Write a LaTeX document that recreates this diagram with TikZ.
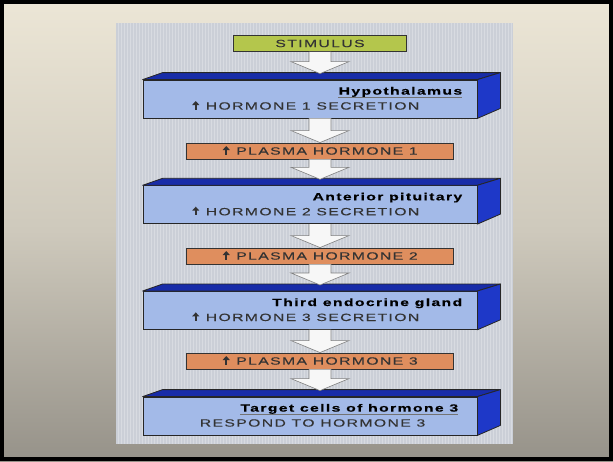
\documentclass[tikz,border=0pt]{standalone}
\usepackage{fontspec}
\setmainfont{Liberation Sans}
\newfontfamily\flowfont[FakeStretch=1.5,LetterSpace=13,FakeBold=0.3]{Liberation Sans}
\usetikzlibrary{calc}

\definecolor{bginner}{RGB}{236,230,214}
\definecolor{bgmid}{RGB}{206,201,188}
\definecolor{bgouter}{RGB}{150,146,137}
\definecolor{panelgray}{RGB}{203,207,215}
\definecolor{boxfront}{RGB}{163,186,232}
\definecolor{boxtop}{RGB}{24,44,168}
\definecolor{boxside}{RGB}{30,56,200}
\definecolor{stimgreen}{RGB}{180,198,76}
\definecolor{plasmaorange}{RGB}{223,142,94}

\newcommand{\flowarrow}[2]{%
  \filldraw[flow] ($(#1)+(-11,0)$) -- ($(#2)+(-11,-12)$) -- ($(#2)+(-29,-12)$)
    -- (#2) -- ($(#2)+(29,-12)$) -- ($(#2)+(11,-12)$) -- ($(#1)+(11,0)$);
}
\newcommand{\risemark}[1]{%
  \fill[black!80] ($(#1)+(3,0)$) rectangle ($(#1)+(5.3,-5)$);
  \fill[black!80] ($(#1)+(0.5,-4.6)$) -- ($(#1)+(4.15,-8.6)$) -- ($(#1)+(7.8,-4.6)$) -- cycle;
}

\begin{document}
\begin{tikzpicture}[x=1pt,y=-1pt,
    front/.style={draw=black!85, fill=boxfront, line width=0.8pt, minimum width=334pt, minimum height=38pt, inner sep=0pt},
    topface/.style={draw=black!85, fill=boxtop, line width=0.8pt, line join=round},
    sideface/.style={draw=black!85, fill=boxside, line width=0.8pt, line join=round},
    flat/.style={draw=black!80, line width=0.9pt, minimum height=16pt, inner sep=0pt, text=black!80, font={\flowfont\fontsize{10.5}{11}\selectfont}},
    title/.style={anchor=base east, inner sep=0pt, font={\flowfont\bfseries\fontsize{10.5}{12}\selectfont}},
    caps/.style={inner sep=0pt, text=black!80, font={\flowfont\fontsize{10.5}{11}\selectfont}},
    flow/.style={draw=black!50, fill=white!94!gray, line width=0.6pt, line join=miter}]
    \useasboundingbox (0,0) rectangle (613,461);
    \shade[top color=bginner, bottom color=bgouter, middle color=bgmid] (0,0) rectangle (613,461);
    \fill[panelgray] (116,23) rectangle (513,444);
    \foreach \x in {118,121,...,512}
        \draw[white!25!panelgray, line width=0.4pt] (\x,23) -- (\x,444);

    \node[flat, fill=stimgreen, minimum width=173pt] (stim) at (320,43.5) {STIMULUS};
    \node[front] (hyp) at (310,99) {};
    \node[flat, fill=plasmaorange, minimum width=267pt] (pl1) at (320,151) {};
    \node[front] (ant) at (310,204.7) {};
    \node[flat, fill=plasmaorange, minimum width=267pt] (pl2) at (320,256) {};
    \node[front] (third) at (310,310.4) {};
    \node[flat, fill=plasmaorange, minimum width=267pt] (pl3) at (320,361) {};
    \node[front] (target) at (310,416) {};

    \foreach \b in {hyp,ant,third,target} {
        \filldraw[topface] (\b.north west) -- ++(20,-7) -- ($(\b.north east)+(23,-7)$) -- (\b.north east) -- cycle;
        \filldraw[sideface] (\b.north east) -- ++(23,-7) -- ($(\b.south east)+(23,-10)$) -- (\b.south east) -- cycle;
        \coordinate (\b-in) at ($(\b.north -| stim)+(0,-6)$);
        \coordinate (\b-out) at (\b.south -| stim);
    }

    % plasma labels
    \foreach \i in {1,2,3} {
        \node[caps] (pl\i-s) at (pl\i) {\hspace*{14pt}PLASMA HORMONE \i};
        \risemark{pl\i-s.base west}
    }

    \node[title] (hyp-t) at ($(hyp.north east)+(-15,15)$) {Hypothalamus};
    \draw[black!55, line width=0.5pt] ($(hyp-t.base west)+(0,3)$) -- ($(hyp-t.base east)+(0,3)$);
    \node[caps, anchor=base west] (hyp-s) at ($(hyp.north west)+(49,30)$) {\hspace*{14pt}HORMONE 1 SECRETION};
    \node[title] (ant-t) at ($(ant.north east)+(-15,15)$) {Anterior pituitary};
    \node[caps, anchor=base west] (ant-s) at ($(ant.north west)+(49,30)$) {\hspace*{14pt}HORMONE 2 SECRETION};
    \node[title] (third-t) at ($(third.north east)+(-15,15)$) {Third endocrine gland};
    \node[caps, anchor=base west] (third-s) at ($(third.north west)+(49,30)$) {\hspace*{14pt}HORMONE 3 SECRETION};
    \node[title] (target-t) at ($(target.north east)+(-19,15)$) {Target cells of hormone 3};
    \draw[black!55, line width=0.5pt] ($(target-t.base west)+(0,3)$) -- ($(target-t.base east)+(0,3)$);
    \node[caps, anchor=base west] (target-s) at ($(target.north west)+(57,30)$) {RESPOND TO HORMONE 3};
    \risemark{hyp-s.base west}
    \risemark{ant-s.base west}
    \risemark{third-s.base west}

    \flowarrow{stim.south}{hyp-in}
    \flowarrow{hyp-out}{pl1.north}
    \flowarrow{pl1.south}{ant-in}
    \flowarrow{ant-out}{pl2.north}
    \flowarrow{pl2.south}{third-in}
    \flowarrow{third-out}{pl3.north}
    \flowarrow{pl3.south}{target-in}

    \draw[black, line width=4pt] (2,2) rectangle (611,459);
\end{tikzpicture}
\end{document}
